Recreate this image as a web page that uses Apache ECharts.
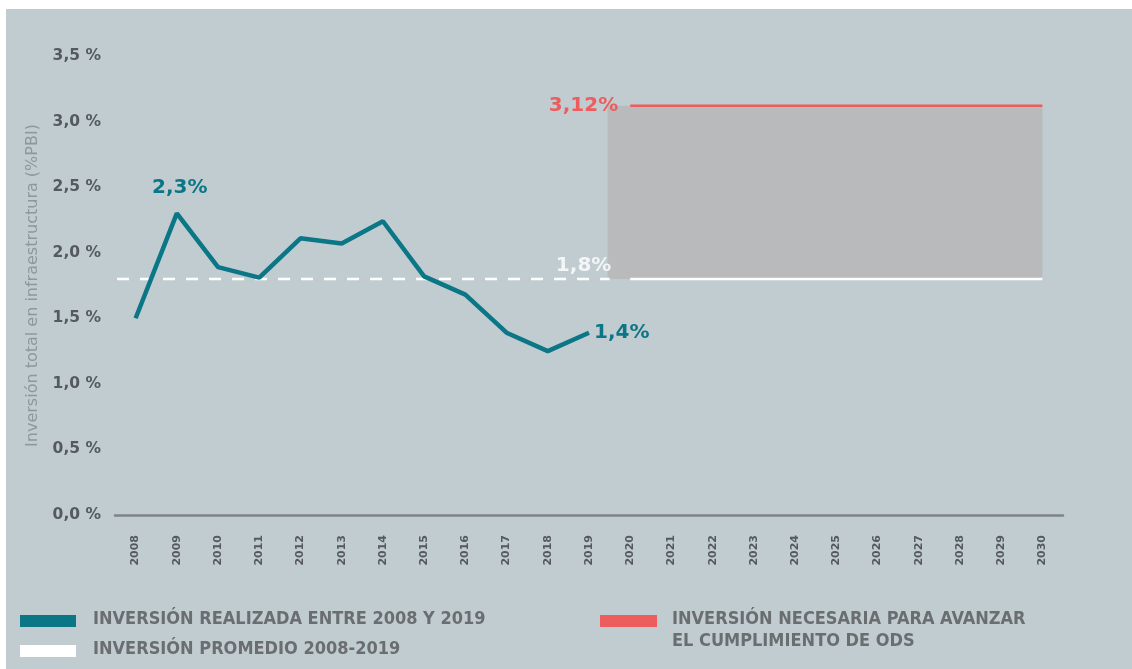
<!DOCTYPE html>
<html><head><meta charset="utf-8">
<script src="https://cdn.jsdelivr.net/npm/echarts@6/dist/echarts.min.js"></script>
<style>
html,body{margin:0;padding:0;background:#fff;width:1132px;height:669px;overflow:hidden}
#bg{position:absolute;left:6px;top:9px;right:0;bottom:0;background:#c1ccd1}
#chart{position:absolute;left:0;top:0;width:1132px;height:669px}
</style></head>
<body><div id="bg"></div><div id="chart"></div>
<script>
const years = ['2008','2009','2010','2011','2012','2013','2014','2015','2016','2017','2018','2019','2020','2021','2022','2023','2024','2025','2026','2027','2028','2029','2030'];
const investment = [1.50,2.30,1.89,1.81,2.11,2.07,2.24,1.82,1.68,1.39,1.25,1.39];
const average = 1.8;
const required = 3.12;
const yTicks = [0,0.5,1,1.5,2,2.5,3,3.5];
const legendLabels = ['INVERSIÓN REALIZADA ENTRE 2008 Y 2019','INVERSIÓN PROMEDIO 2008-2019','INVERSIÓN NECESARIA PARA AVANZAR','EL CUMPLIMIENTO DE ODS'];

const TEAL='#0b7686', RED='#ee5d5d', WHITE='#ffffff', GRAYBOX='#b9babc';
const n = years.length;
const lastIdx = investment.length - 1;
const fmt = v => v.toFixed(1).replace('.', ',') + ' %';
const LABEL_FONT = 'DejaVu Sans';

const lineData = investment.map((v,i)=>{
  const d = {value:[i,v]};
  if (i===1) d.label={show:true,position:'top',distance:16,offset:[3,0],formatter:'2,3%'};
  if (i===lastIdx) d.label={show:true,position:'right',distance:5,formatter:'1,4%'};
  return d;
});

const legendFont = 'bold 18px "DejaVu Sans Condensed", "DejaVu Sans"';

const chart = echarts.init(document.getElementById('chart'));
chart.setOption({
  backgroundColor:'transparent',
  animation:false,
  grid:{left:115,right:69,top:56,bottom:154},
  xAxis:[{
    type:'category', data:years, boundaryGap:true,
    axisLine:{lineStyle:{color:'#7d8487',width:2.5}},
    axisTick:{show:false},
    axisLabel:{rotate:90,fontSize:11,fontWeight:'bold',color:'#55595c',margin:20,fontFamily:LABEL_FONT}
  },{
    type:'value', min:-0.5, max:n-0.5, show:false
  }],
  yAxis:{
    type:'value', min:0, max:3.5, interval:0.5,
    axisLine:{show:false}, axisTick:{show:false}, splitLine:{show:false},
    axisLabel:{formatter:fmt,fontSize:15.5,fontWeight:'bold',color:'#545a5d',margin:14,fontFamily:LABEL_FONT},
    name:'Inversión total en infraestructura (%PBI)',
    nameLocation:'middle', nameGap:74, nameRotate:90,
    nameTextStyle:{fontSize:16,color:'#8d989d',fontFamily:LABEL_FONT}
  },
  series:[
    {
      type:'line', xAxisIndex:1, data:[[lastIdx+0.5,average],[n-1,average]], symbol:'none', silent:true,
      lineStyle:{width:0},
      markArea:{silent:true,itemStyle:{color:GRAYBOX},data:[[{coord:[lastIdx+0.45,required]},{coord:[n-1,average]}]]}
    },
    {
      type:'line', xAxisIndex:1, data:[[-0.45,average],[lastIdx+0.5,average]], symbol:'none', silent:true,
      lineStyle:{color:WHITE,width:2.5,type:[12,11]}, z:3
    },
    {
      type:'line', xAxisIndex:1, data:[[lastIdx+1,average],[n-1,average]], symbol:'none', silent:true,
      lineStyle:{color:WHITE,width:2.5}, z:3
    },
    {
      type:'line', xAxisIndex:1, silent:true, symbol:'circle', symbolSize:0, showSymbol:true,
      data:[{value:[lastIdx+1,required],label:{show:true,position:'left',distance:12,formatter:'3,12%'}},[n-1,required]],
      label:{show:false,color:RED,fontSize:20,fontWeight:'bold',fontFamily:LABEL_FONT},
      itemStyle:{color:RED},
      lineStyle:{color:RED,width:2.5}, z:3
    },
    {
      type:'scatter', xAxisIndex:1, silent:true, symbol:'circle', symbolSize:0,
      data:[{value:[lastIdx+0.5,average],label:{show:true,position:'top',offset:[-26,0],distance:3,formatter:'1,8%'}}],
      label:{show:false,color:WHITE,fontSize:20,fontWeight:'bold',fontFamily:LABEL_FONT},
      itemStyle:{color:WHITE}, z:3
    },
    {
      type:'line', xAxisIndex:1, data:lineData, symbol:'circle', symbolSize:0, showSymbol:true,
      lineStyle:{color:TEAL,width:4.5}, itemStyle:{color:TEAL},
      label:{show:false,color:TEAL,fontSize:20,fontWeight:'bold',fontFamily:LABEL_FONT},
      z:5
    }
  ],
  graphic:[
    {type:'rect',left:20,top:615,shape:{width:56,height:12},style:{fill:TEAL}},
    {type:'rect',left:20,top:645,shape:{width:56,height:12},style:{fill:WHITE}},
    {type:'rect',left:600,top:615,shape:{width:57,height:12},style:{fill:RED}},
    {type:'text',left:93,top:610,style:{text:legendLabels[0],fill:'#6a6e70',font:legendFont}},
    {type:'text',left:93,top:640,style:{text:legendLabels[1],fill:'#6a6e70',font:legendFont}},
    {type:'text',left:672,top:610,style:{text:legendLabels[2],fill:'#6a6e70',font:legendFont}},
    {type:'text',left:672,top:632,style:{text:legendLabels[3],fill:'#6a6e70',font:legendFont}}
  ]
});
</script></body></html>
